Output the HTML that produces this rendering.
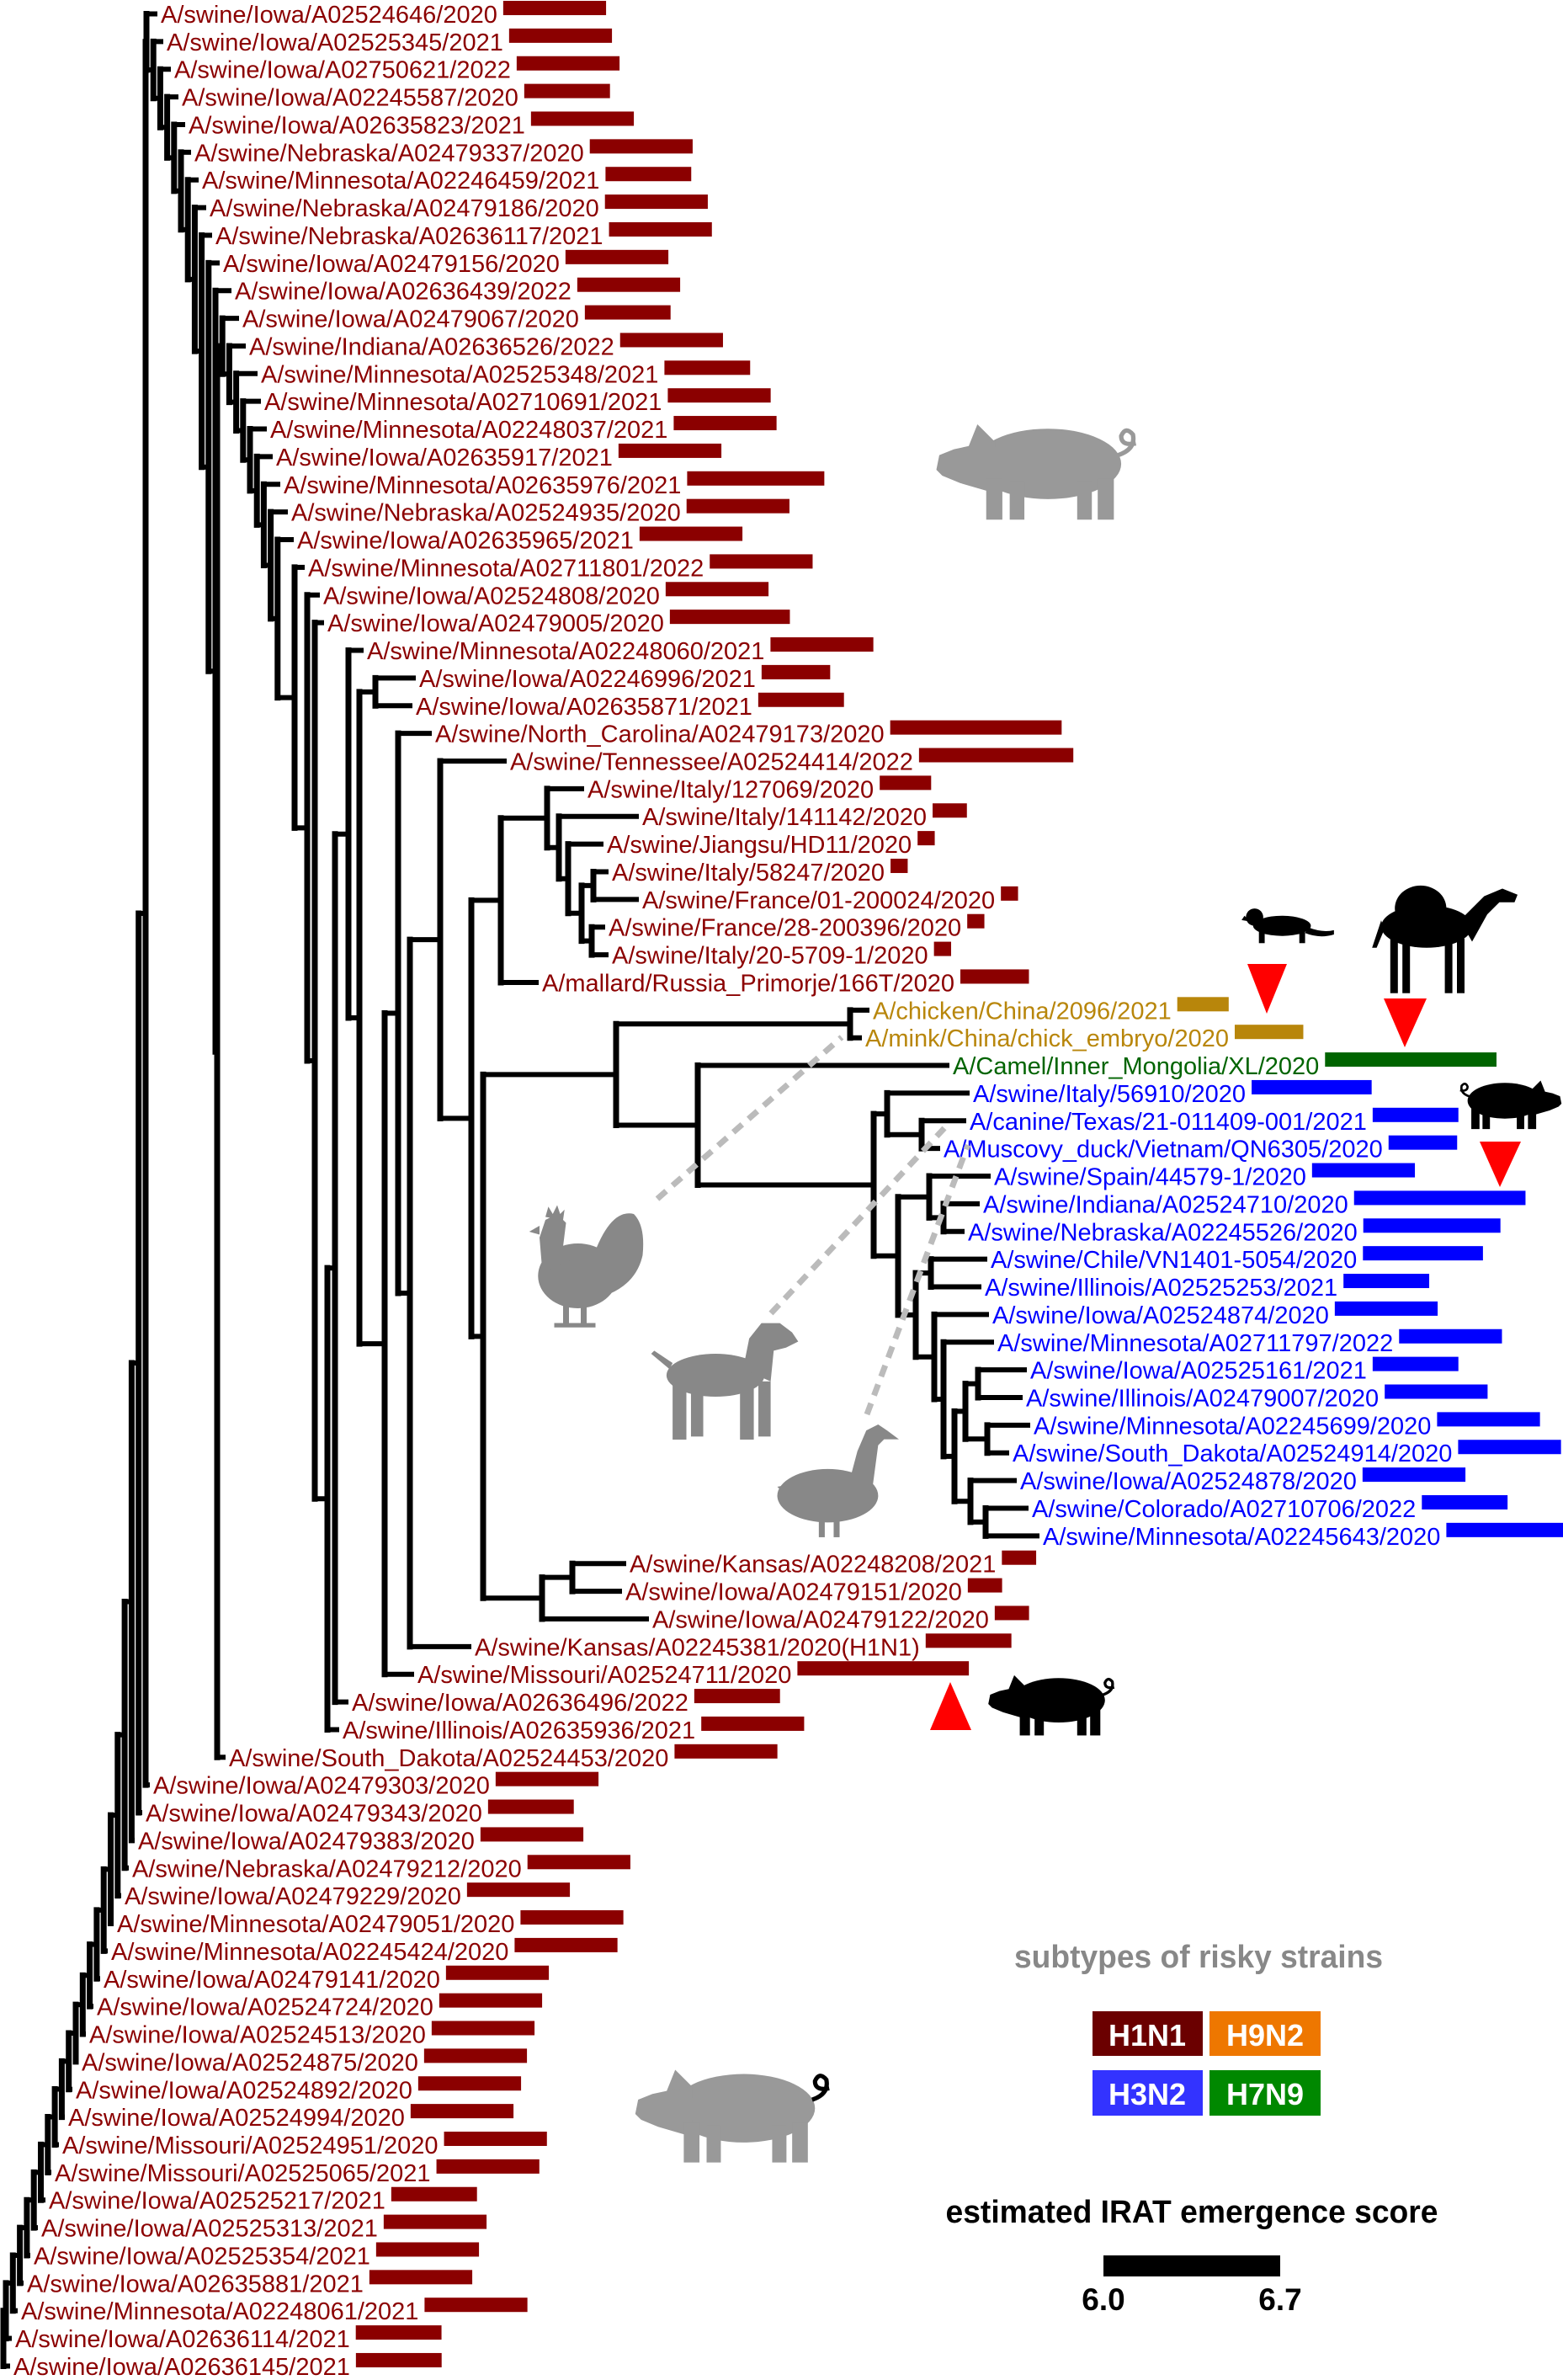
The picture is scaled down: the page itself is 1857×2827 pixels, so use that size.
<!DOCTYPE html>
<html><head><meta charset="utf-8"><title>IRAT phylogeny</title>
<style>
html,body{margin:0;padding:0;background:#fff;}
svg{display:block;}
text{font-family:"Liberation Sans",sans-serif;}
</style></head>
<body>
<svg id="tree" xmlns="http://www.w3.org/2000/svg" width="1857" height="2827" viewBox="0 0 1857 2827">
<defs>
<symbol id="pig" viewBox="0 0 140 72">
<ellipse cx="78" cy="32" rx="50" ry="24"/>
<path d="M42 16 L14 22 L4 26 L2 36 L6 40 L18 45 L42 52 Z"/>
<path d="M24 20 L30 5 L42 17 Z"/>
<rect x="36" y="42" width="11" height="28"/><rect x="52" y="44" width="10" height="26"/>
<rect x="98" y="44" width="10" height="26"/><rect x="112" y="42" width="11" height="28"/>
<path d="M126 26 q12 -4 10 -14 q-5 -6 -8 1 q0 7 10 5" fill="none" stroke="currentColor" stroke-width="3"/>
</symbol>
<symbol id="chicken" viewBox="0 0 80 84">
<ellipse cx="34" cy="48" rx="27" ry="22"/>
<path d="M10 46 L8 22 L12 10 L20 6 L26 12 L24 28 L32 36 Z"/>
<path d="M12 8 L14 1 L17 6 L20 0 L22 6 L25 3 L24 10 Z"/>
<path d="M8 14 L1 18 L8 20 Z"/>
<path d="M44 36 Q56 2 72 6 Q80 14 78 34 Q74 52 56 60 Z"/>
<rect x="24" y="66" width="4" height="16"/><rect x="36" y="66" width="4" height="16"/>
<rect x="18" y="80" width="14" height="3"/><rect x="32" y="80" width="14" height="3"/>
</symbol>
<symbol id="dog" viewBox="0 0 100 82">
<ellipse cx="44" cy="38" rx="32" ry="14"/>
<path d="M62 34 L66 14 L74 4 L86 4 L94 10 L98 16 L90 20 L82 22 L80 42 Z"/>
<path d="M14 34 L2 24 L4 22 L16 30 Z"/>
<rect x="16" y="42" width="9" height="38"/><rect x="28" y="44" width="8" height="34"/>
<rect x="60" y="42" width="9" height="38"/><rect x="72" y="42" width="8" height="36"/>
</symbol>
<symbol id="goose" viewBox="0 0 84 80">
<ellipse cx="36" cy="50" rx="34" ry="18"/>
<path d="M48 50 L56 20 L62 6 L70 2 L76 6 L84 12 L74 12 L70 16 L66 46 Z"/>
<path d="M2 44 L12 42 L10 52 Z"/>
<rect x="30" y="64" width="4" height="14"/><rect x="40" y="64" width="4" height="14"/>
</symbol>
<symbol id="camel" viewBox="0 0 100 75">
<ellipse cx="40" cy="30" rx="30" ry="14"/>
<ellipse cx="36" cy="18" rx="17" ry="15"/>
<path d="M62 26 L78 10 L90 5 L100 9 L98 14 L88 14 L80 22 L70 40 Z"/>
<path d="M10 26 L4 44 L7 44 L12 32 Z"/>
<rect x="16" y="38" width="5" height="36"/><rect x="24" y="38" width="5" height="36"/>
<rect x="52" y="38" width="5" height="36"/><rect x="60" y="38" width="5" height="36"/>
</symbol>
<symbol id="ferret" viewBox="0 0 64 28">
<ellipse cx="28" cy="15" rx="20" ry="7"/>
<circle cx="9" cy="9" r="6"/>
<path d="M2 8 L0 11 L6 12 Z"/>
<path d="M46 16 Q56 20 64 18 L64 21 Q54 24 44 20 Z"/>
<rect x="12" y="18" width="4" height="9"/><rect x="40" y="18" width="4" height="9"/>
</symbol>
</defs>

<g id="tree-lines"></g>
<g id="labels"></g>
<g id="bars"></g>

<g>
<use href="#pig" x="1109" y="495" width="244" height="126" style="color:#999" fill="#999"/>
<use href="#pig" x="748" y="2450" width="244" height="122" fill="#999"/>
<use href="#chicken" x="627" y="1430" width="140" height="150" fill="#888"/>
<use href="#dog" x="770" y="1563" width="182" height="152" fill="#888"/>
<use href="#goose" x="920" y="1688" width="148" height="142" fill="#888"/>
<use href="#ferret" x="1475" y="1074" width="110" height="48" fill="#000"/>
<use href="#camel" x="1623" y="1046" width="180" height="136" fill="#000"/>
<g transform="translate(1857,1278) scale(-1,1)"><use href="#pig" x="0" y="0" width="124" height="66" fill="#000"/></g>
<use href="#pig" x="1172" y="1983" width="154" height="82" fill="#000"/>
</g>
<g stroke="#bbb" stroke-width="7" stroke-dasharray="14 10" fill="none">
<line x1="781" y1="1424" x2="1000" y2="1232"/>
<line x1="916" y1="1560" x2="1122" y2="1340"/>
<line x1="1030" y1="1680" x2="1150" y2="1360"/>
</g>
<g fill="#f00">
<polygon points="1482,1145 1529,1145 1505,1204"/>
<polygon points="1644,1186 1695,1186 1669,1244"/>
<polygon points="1758,1356 1807,1356 1782,1410"/>
<polygon points="1105,2055 1154,2055 1129,1998"/>
</g>

<g>
<text x="1424" y="2337" text-anchor="middle" font-size="38" font-weight="bold" fill="#888" textLength="438" lengthAdjust="spacingAndGlyphs">subtypes of risky strains</text>
<rect x="1298" y="2389" width="131" height="53" fill="#6b0000"/>
<text x="1363" y="2430" text-anchor="middle" font-size="36" font-weight="bold" fill="#fff">H1N1</text>
<rect x="1437" y="2389" width="132" height="53" fill="#ee7700"/>
<text x="1503" y="2430" text-anchor="middle" font-size="36" font-weight="bold" fill="#fff">H9N2</text>
<rect x="1298" y="2459" width="131" height="54" fill="#3333ff"/>
<text x="1363" y="2500" text-anchor="middle" font-size="36" font-weight="bold" fill="#fff">H3N2</text>
<rect x="1437" y="2459" width="132" height="54" fill="#008800"/>
<text x="1503" y="2500" text-anchor="middle" font-size="36" font-weight="bold" fill="#fff">H7N9</text>
</g>
<g>
<text x="1416" y="2640" text-anchor="middle" font-size="38" font-weight="bold" fill="#000" textLength="585" lengthAdjust="spacingAndGlyphs">estimated IRAT emergence score</text>
<rect x="1311" y="2679" width="210" height="25" fill="#000"/>
<text x="1311" y="2744" text-anchor="middle" font-size="37" font-weight="bold" fill="#000">6.0</text>
<text x="1521" y="2744" text-anchor="middle" font-size="37" font-weight="bold" fill="#000">6.7</text>
</g>
</svg>
<script>
const strains = [
"A/swine/Iowa/A02524646/2020","A/swine/Iowa/A02525345/2021","A/swine/Iowa/A02750621/2022","A/swine/Iowa/A02245587/2020","A/swine/Iowa/A02635823/2021","A/swine/Nebraska/A02479337/2020","A/swine/Minnesota/A02246459/2021","A/swine/Nebraska/A02479186/2020","A/swine/Nebraska/A02636117/2021","A/swine/Iowa/A02479156/2020",
"A/swine/Iowa/A02636439/2022","A/swine/Iowa/A02479067/2020","A/swine/Indiana/A02636526/2022","A/swine/Minnesota/A02525348/2021","A/swine/Minnesota/A02710691/2021","A/swine/Minnesota/A02248037/2021","A/swine/Iowa/A02635917/2021","A/swine/Minnesota/A02635976/2021","A/swine/Nebraska/A02524935/2020","A/swine/Iowa/A02635965/2021",
"A/swine/Minnesota/A02711801/2022","A/swine/Iowa/A02524808/2020","A/swine/Iowa/A02479005/2020","A/swine/Minnesota/A02248060/2021","A/swine/Iowa/A02246996/2021","A/swine/Iowa/A02635871/2021","A/swine/North_Carolina/A02479173/2020","A/swine/Tennessee/A02524414/2022","A/swine/Italy/127069/2020","A/swine/Italy/141142/2020",
"A/swine/Jiangsu/HD11/2020","A/swine/Italy/58247/2020","A/swine/France/01-200024/2020","A/swine/France/28-200396/2020","A/swine/Italy/20-5709-1/2020","A/mallard/Russia_Primorje/166T/2020","A/chicken/China/2096/2021","A/mink/China/chick_embryo/2020","A/Camel/Inner_Mongolia/XL/2020","A/swine/Italy/56910/2020",
"A/canine/Texas/21-011409-001/2021","A/Muscovy_duck/Vietnam/QN6305/2020","A/swine/Spain/44579-1/2020","A/swine/Indiana/A02524710/2020","A/swine/Nebraska/A02245526/2020","A/swine/Chile/VN1401-5054/2020","A/swine/Illinois/A02525253/2021","A/swine/Iowa/A02524874/2020","A/swine/Minnesota/A02711797/2022","A/swine/Iowa/A02525161/2021",
"A/swine/Illinois/A02479007/2020","A/swine/Minnesota/A02245699/2020","A/swine/South_Dakota/A02524914/2020","A/swine/Iowa/A02524878/2020","A/swine/Colorado/A02710706/2022","A/swine/Minnesota/A02245643/2020","A/swine/Kansas/A02248208/2021","A/swine/Iowa/A02479151/2020","A/swine/Iowa/A02479122/2020","A/swine/Kansas/A02245381/2020(H1N1)",
"A/swine/Missouri/A02524711/2020","A/swine/Iowa/A02636496/2022","A/swine/Illinois/A02635936/2021","A/swine/South_Dakota/A02524453/2020","A/swine/Iowa/A02479303/2020","A/swine/Iowa/A02479343/2020","A/swine/Iowa/A02479383/2020","A/swine/Nebraska/A02479212/2020","A/swine/Iowa/A02479229/2020","A/swine/Minnesota/A02479051/2020",
"A/swine/Minnesota/A02245424/2020","A/swine/Iowa/A02479141/2020","A/swine/Iowa/A02524724/2020","A/swine/Iowa/A02524513/2020","A/swine/Iowa/A02524875/2020","A/swine/Iowa/A02524892/2020","A/swine/Iowa/A02524994/2020","A/swine/Missouri/A02524951/2020","A/swine/Missouri/A02525065/2021","A/swine/Iowa/A02525217/2021",
"A/swine/Iowa/A02525313/2021","A/swine/Iowa/A02525354/2021","A/swine/Iowa/A02635881/2021","A/swine/Minnesota/A02248061/2021","A/swine/Iowa/A02636114/2021","A/swine/Iowa/A02636145/2021"];

const iratScores = [
6.42,6.42,6.42,6.35,6.42,6.42,6.35,6.42,6.42,6.42,
6.42,6.35,6.42,6.35,6.42,6.42,6.42,6.56,6.42,6.42,
6.42,6.42,6.49,6.42,6.28,6.35,6.70,6.63,6.21,6.14,
6.07,6.07,6.07,6.07,6.07,6.28,6.21,6.28,6.70,6.49,
6.35,6.28,6.42,6.70,6.56,6.49,6.35,6.42,6.42,6.35,
6.42,6.42,6.42,6.42,6.35,6.49,6.14,6.14,6.14,6.35,
6.70,6.35,6.42,6.42,6.42,6.35,6.42,6.42,6.42,6.42,
6.42,6.42,6.42,6.42,6.42,6.42,6.42,6.42,6.42,6.35,
6.42,6.42,6.42,6.42,6.35,6.35];

const subtypeCodes = ("111111111111111111111111111111111111" + "99" + "7" + "33333333333333333" + "111111111111111111111111111111").split('');

const subtypeColors = {"1":"#8b0000","9":"#b8860b","7":"#006400","3":"#0000ff"};

// layout: label start x (px) for each row
const labelX = [191,198,207,216,224,231,240,249,256,265,279,288,296,310,314,321,328,337,346,353,
366,384,389,436,498,494,517,606,698,763,721,727,763,723,727,644,1037,1028,1132,1156,
1152,1121,1181,1168,1150,1177,1170,1179,1185,1224,1219,1228,1203,1212,1226,1239,748,743,775,564,
496,418,407,272,182,173,164,157,148,139,132,123,115,106,97,90,81,74,65,58,
49,40,32,25,18,16];

const NS = 'http://www.w3.org/2000/svg';
const ROW0 = 16.5, DY = 32.87, SCORE0 = 6.0, PX_PER_UNIT = 291;
function rowY(i){ return ROW0 + (i-1)*DY; }
function N(x, ...c){ return {x:x, c:c}; }

// tree topology (node depth positions)
const italy = N(595, N(650, 29, N(664, 30, N(675, 31, N(691, N(705,32,33), N(703,34,35))))), 36);
const h3 = N(1038, N(1054, 40, N(1095, 41, 42)),
  N(1067, N(1104, 43, N(1121, 44, 45)),
    N(1088, N(1106, 46, 47),
      N(1110, 48, N(1121, 49, N(1134, N(1147, N(1162,50,51), N(1173,52,53)), N(1153, 54, N(1171,55,56))))))));
const G1 = N(732, N(1010, 37, 38), N(829, 39, h3));
const N574 = N(574, G1, N(644, N(680, 57, 58), 59));
const Nb = N(560, italy, N574);
const N487 = N(487, N(523, 28, Nb), 60);
const N457 = N(457, N(473, 27, N487), 61);
const N414 = N(414, 24, N(427, N(446, 25, 26), N457));
const N389 = N(389, N(398, N414, 62), 63);
let chain = N(374, 23, N389);
chain = N(365, 22, chain);
chain = N(350, 21, chain);
for (let k = 20; k >= 1; k--) {
  const x = 174 + 8.2*(k-1);
  if (k === 11) chain = N(x, k, N(x+2, chain, 64));
  else chain = N(x, k, chain);
}
let root = N(173, chain, 65);
for (let k = 66; k <= 86; k++) {
  root = N(Math.max(4, 173 - 8.3*(k-65)), root, k);
}

function nodeY(n){
  if (typeof n === 'number') return rowY(n);
  if (n.y == null){ const a = nodeY(n.c[0]), b = nodeY(n.c[n.c.length-1]); n.y = (a+b)/2; }
  return n.y;
}
function childX(c){ return typeof c === 'number' ? labelX[c-1] - 7 : c.x; }

const gLines = document.getElementById('tree-lines');
function seg(x1,y1,x2,y2,w,name){
  const l = document.createElementNS(NS,'line');
  l.setAttribute('x1',x1); l.setAttribute('y1',y1); l.setAttribute('x2',x2); l.setAttribute('y2',y2);
  l.setAttribute('stroke','#000'); l.setAttribute('stroke-width',w); l.setAttribute('stroke-linecap','square');
  
  
  gLines.appendChild(l);
}
const stack = [root];
while (stack.length){
  const n = stack.pop();
  const ys = n.c.map(nodeY);
  seg(n.x, ys[0], n.x, ys[ys.length-1], 7, 'branch-vertical');
  n.c.forEach((c,i) => {
    seg(n.x, ys[i], childX(c), ys[i], 6, typeof c === 'number' ? 'branch-tip' : 'branch-horizontal');
    if (typeof c !== 'number') stack.push(c);
  });
}

const gLab = document.getElementById('labels');
const gBars = document.getElementById('bars');
strains.forEach((s,i) => {
  const y = rowY(i+1);
  const col = subtypeColors[subtypeCodes[i]];
  const t = document.createElementNS(NS,'text');
  t.setAttribute('x', labelX[i]); t.setAttribute('y', y + 10.5);
  t.setAttribute('font-size','29'); t.setAttribute('fill', col);
  
  
  t.textContent = s;
  gLab.appendChild(t);
  let len = 0;
  try { len = t.getComputedTextLength(); } catch(e) { len = s.length*15; }
  const r = document.createElementNS(NS,'rect');
  r.setAttribute('x', labelX[i] + len + 7);
  r.setAttribute('y', y - 15.5);
  r.setAttribute('width', Math.max(0,(iratScores[i]-SCORE0)*PX_PER_UNIT));
  r.setAttribute('height', 17);
  r.setAttribute('fill', col);
  
  
  gBars.appendChild(r);
});
</script>
</body></html>
